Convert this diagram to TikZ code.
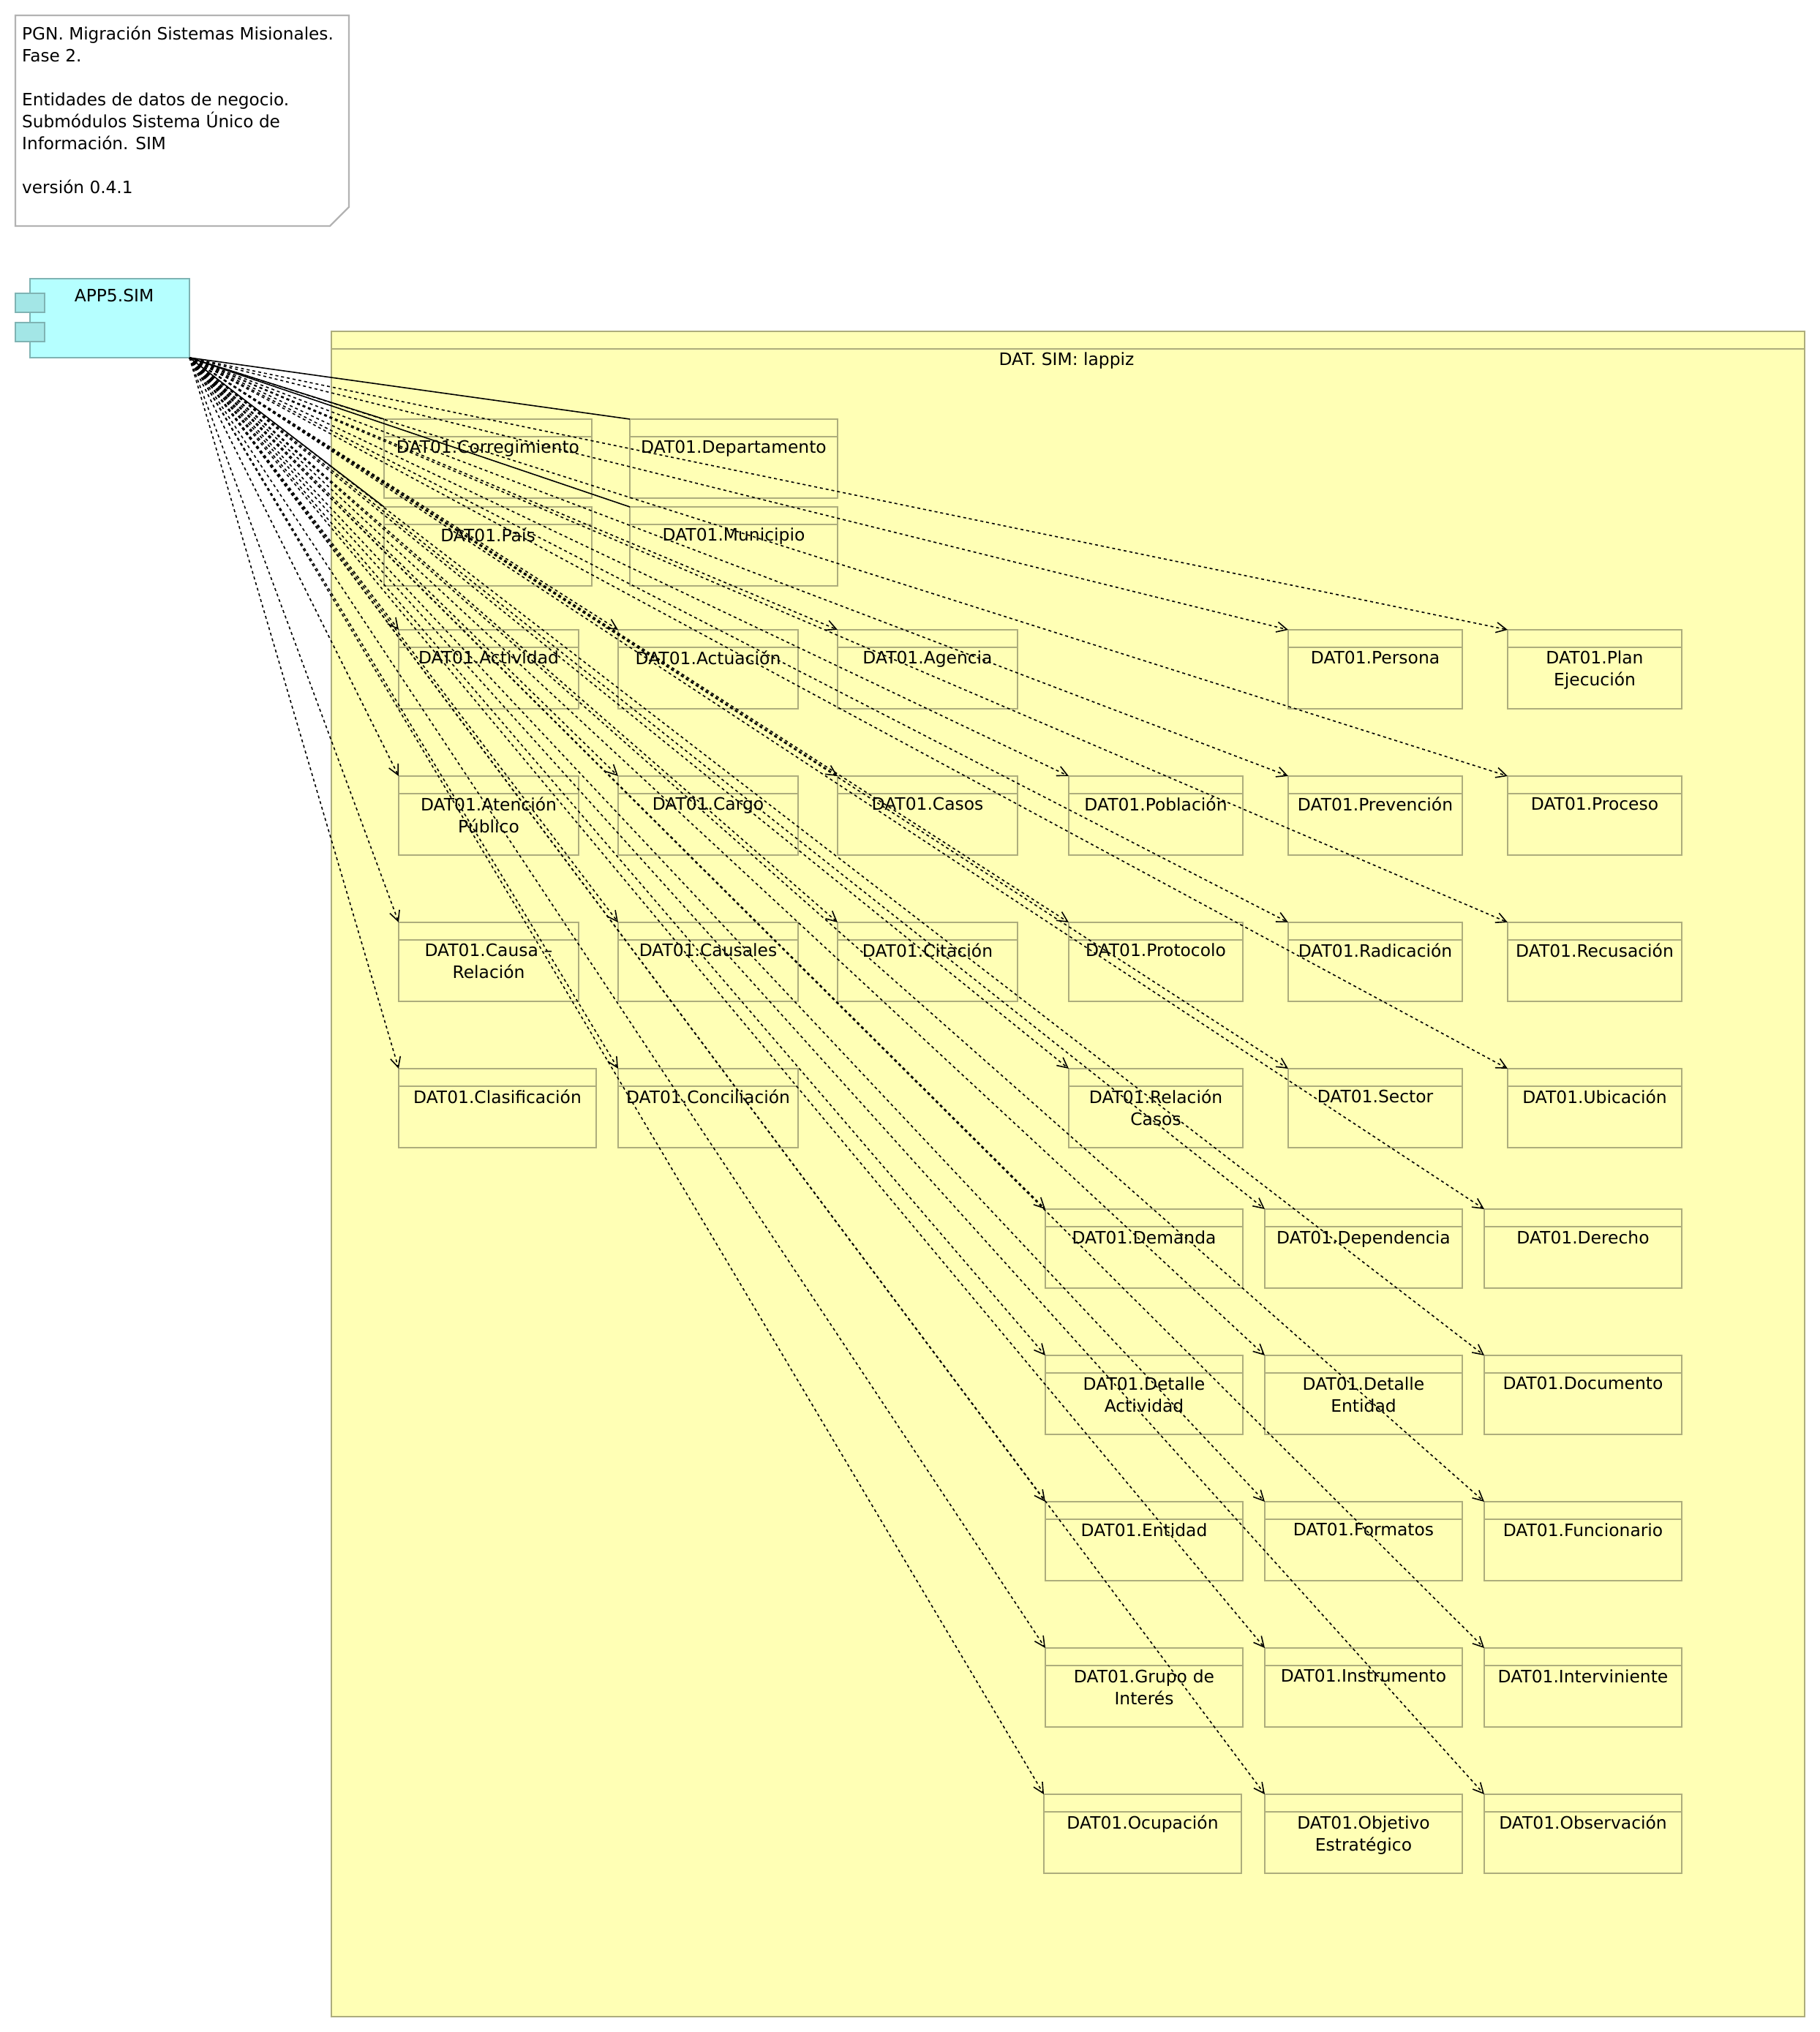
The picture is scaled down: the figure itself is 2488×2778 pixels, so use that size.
\documentclass[tikz,border=0pt]{standalone}
\usepackage{fontspec}
\setmainfont{DejaVu Sans}
\usetikzlibrary{arrows.meta}
\definecolor{datafill}{HTML}{FFFFB5}
\definecolor{dataline}{HTML}{ADAD7C}
\definecolor{appfill}{HTML}{B5FFFF}
\definecolor{appline}{HTML}{7FB3B3}
\definecolor{portfill}{HTML}{A3E6E6}
\definecolor{noteline}{HTML}{B3B3B3}
\begin{document}
\begin{tikzpicture}[
    x=1pt, y=-1pt,
    every node/.style={font=\fontsize{23.4}{30}\selectfont},
    frame/.style={draw=dataline,fill=datafill,line width=2.2pt},
    entitytext/.style={anchor=north,yshift=-29pt,inner sep=0pt,align=center,text width=#1},
    entity/.style 2 args={frame,anchor=north west,inner sep=0pt,outer sep=0pt,
      minimum width=#1,minimum height=108pt,
      path picture={\draw[dataline,line width=2.2pt]
        ([yshift=-24pt]path picture bounding box.north west) --
        ([yshift=-24pt]path picture bounding box.north east);},
      label={[entitytext=#1]north:{#2}}},
    port/.style={draw=appline,fill=portfill,line width=2.2pt,anchor=north west,
      inner sep=0pt,outer sep=0pt,minimum width=40pt,minimum height=26pt},
    assoc/.style={line width=1.6pt},
    access/.style={line width=1.6pt,dash pattern=on 4pt off 4pt,
      -{Straight Barb[length=14pt,width=14pt]}},
  ]
  \useasboundingbox (0,0) rectangle (2488,2778);

  % Note
  \draw[draw=noteline,fill=white,line width=2.2pt]
    (21,21) -- (477,21) -- (477,283) -- (451,309) -- (21,309) -- cycle;
  \node[anchor=north west,inner sep=0pt,align=left,font=\fontsize{23.2}{30}\selectfont] (note) at (30,36)
    {PGN. Migración Sistemas Misionales.\\Fase 2.\\[30pt]Entidades de datos de negocio.\\
     Submódulos Sistema Único de\\Información. SIM\\[30pt]versión 0.4.1};

  % Application
  \node[draw=appline,fill=appfill,line width=2.2pt,anchor=north west,inner sep=0pt,outer sep=0pt,
    minimum width=218pt,minimum height=108pt] (app) at (41,381) {};
  \node[inner sep=0pt] (applabel) at (156,404) {APP5.SIM};
  \node[port] (port1) at (21,401) {};
  \node[port] (port2) at (21,441) {};

  % Group
  \node[frame,anchor=north west,inner sep=0pt,outer sep=0pt,
    minimum width=2014pt,minimum height=2304pt] (group) at (453,453) {};
  \draw[dataline,line width=2.2pt] ([yshift=-24pt]group.north west) -- ([yshift=-24pt]group.north east);
  \node[inner sep=0pt] (grouplabel) at (1458,493) {DAT. SIM: lappiz};

  % Top block
  \node[entity={284pt}{DAT01.Corregimiento}] (corregimiento) at (525,573) {};
  \node[entity={284pt}{DAT01.Departamento}] (departamento) at (861,573) {};
  \node[entity={284pt}{DAT01.País}] (pais) at (525,693) {};
  \node[entity={284pt}{DAT01.Municipio}] (municipio) at (861,693) {};

  % Left columns
  \node[entity={246pt}{DAT01.Actividad}] (actividad) at (545,861) {};
  \node[entity={246pt}{DAT01.Actuación}] (actuacion) at (845,861) {};
  \node[entity={246pt}{DAT01.Agencia}] (agencia) at (1145,861) {};
  \node[entity={246pt}{DAT01.Atención\\Público}] (atencion) at (545,1061) {};
  \node[entity={246pt}{DAT01.Cargo}] (cargo) at (845,1061) {};
  \node[entity={246pt}{DAT01.Casos}] (casos) at (1145,1061) {};
  \node[entity={246pt}{DAT01.Causa –\\Relación}] (causa) at (545,1261) {};
  \node[entity={246pt}{DAT01.Causales}] (causales) at (845,1261) {};
  \node[entity={246pt}{DAT01.Citación}] (citacion) at (1145,1261) {};
  \node[entity={270pt}{DAT01.Clasificación}] (clasificacion) at (545,1461) {};
  \node[entity={246pt}{DAT01.Conciliación}] (conciliacion) at (845,1461) {};

  % Right columns, upper
  \node[entity={238pt}{DAT01.Persona}] (persona) at (1761,861) {};
  \node[entity={238pt}{DAT01.Plan\\Ejecución}] (plan) at (2061,861) {};
  \node[entity={238pt}{DAT01.Población}] (poblacion) at (1461,1061) {};
  \node[entity={238pt}{DAT01.Prevención}] (prevencion) at (1761,1061) {};
  \node[entity={238pt}{DAT01.Proceso}] (proceso) at (2061,1061) {};
  \node[entity={238pt}{DAT01.Protocolo}] (protocolo) at (1461,1261) {};
  \node[entity={238pt}{DAT01.Radicación}] (radicacion) at (1761,1261) {};
  \node[entity={238pt}{DAT01.Recusación}] (recusacion) at (2061,1261) {};
  \node[entity={238pt}{DAT01.Relación\\Casos}] (relacion) at (1461,1461) {};
  \node[entity={238pt}{DAT01.Sector}] (sector) at (1761,1461) {};
  \node[entity={238pt}{DAT01.Ubicación}] (ubicacion) at (2061,1461) {};

  % Right columns, lower
  \node[entity={270pt}{DAT01.Demanda}] (demanda) at (1429,1653) {};
  \node[entity={270pt}{DAT01.Dependencia}] (dependencia) at (1729,1653) {};
  \node[entity={270pt}{DAT01.Derecho}] (derecho) at (2029,1653) {};
  \node[entity={270pt}{DAT01.Detalle\\Actividad}] (detalleact) at (1429,1853) {};
  \node[entity={270pt}{DAT01.Detalle\\Entidad}] (detalleent) at (1729,1853) {};
  \node[entity={270pt}{DAT01.Documento}] (documento) at (2029,1853) {};
  \node[entity={270pt}{DAT01.Entidad}] (entidad) at (1429,2053) {};
  \node[entity={270pt}{DAT01.Formatos}] (formatos) at (1729,2053) {};
  \node[entity={270pt}{DAT01.Funcionario}] (funcionario) at (2029,2053) {};
  \node[entity={270pt}{DAT01.Grupo de\\Interés}] (grupo) at (1429,2253) {};
  \node[entity={270pt}{DAT01.Instrumento}] (instrumento) at (1729,2253) {};
  \node[entity={270pt}{DAT01.Interviniente}] (interviniente) at (2029,2253) {};
  \node[entity={270pt}{DAT01.Ocupación}] (ocupacion) at (1427,2453) {};
  \node[entity={270pt}{DAT01.Objetivo\\Estratégico}] (objetivo) at (1729,2453) {};
  \node[entity={270pt}{DAT01.Observación}] (observacion) at (2029,2453) {};

  % Relations
  \foreach \target in {corregimiento,departamento,pais,municipio}
    \draw[assoc] (app.south east) -- (\target.north west);
  \foreach \target in {actividad,actuacion,agencia,atencion,cargo,casos,causa,causales,citacion,
      clasificacion,conciliacion,persona,plan,poblacion,prevencion,proceso,protocolo,radicacion,
      recusacion,relacion,sector,ubicacion,demanda,dependencia,derecho,detalleact,detalleent,
      documento,entidad,formatos,funcionario,grupo,instrumento,interviniente,ocupacion,objetivo,
      observacion}
    \draw[access] (app.south east) -- (\target.north west);
\end{tikzpicture}
\end{document}
